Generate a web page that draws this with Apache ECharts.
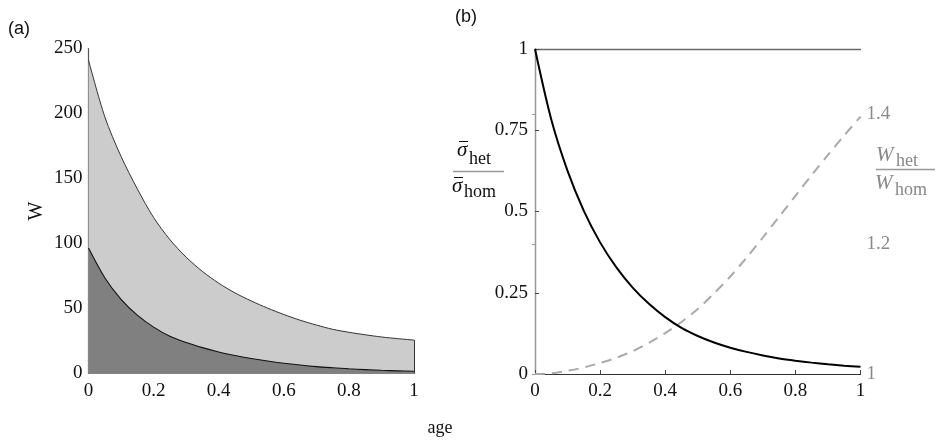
<!DOCTYPE html>
<html><head><meta charset="utf-8">
<script src="https://cdn.jsdelivr.net/npm/echarts@6/dist/echarts.min.js"></script>
<style>html,body{margin:0;padding:0;background:#fff}#c{width:941px;height:445px}</style>
</head><body><div id="c"></div>
<script>
// ---- data ----
const ages = [0,0.05,0.1,0.15,0.2,0.25,0.3,0.35,0.4,0.45,0.5,0.55,0.6,0.65,0.7,0.75,0.8,0.85,0.9,0.95,1];
const wUpper = [241,197.5,167,142,120,103,89.5,78.5,69.5,62,55.8,50.3,45.4,41,37.3,34,31.7,29.8,28.1,26.8,25.7];
const wLower = [96.5,73.7,57.1,44.9,35.7,28.7,23.8,19.9,16.6,13.9,11.6,9.6,7.9,6.5,5.3,4.4,3.6,3.0,2.45,2.05,1.7];
const sigmaRatio = [1,0.783,0.625,0.502,0.405,0.328,0.266,0.216,0.175,0.142,0.117,0.097,0.081,0.068,0.057,0.048,0.041,0.035,0.030,0.0255,0.022];
const wRatio = [1,1.001,1.005,1.01,1.017,1.025,1.035,1.048,1.063,1.08,1.1,1.124,1.15,1.179,1.21,1.242,1.274,1.306,1.337,1.367,1.396];
const xTickLabels = ['0','0.2','0.4','0.6','0.8','1'];
const aYTickLabels = ['0','50','100','150','200','250'];
const bYTickLabels = ['0','0.25','0.5','0.75','1'];
const bY2TickLabels = ['1','1.2','1.4'];

const pair = (ys) => ages.map((a, i) => [a, ys[i]]);
const SERIF = 'Liberation Serif';
const fmtFrom = (labels, min, step) => (v) => {
  const idx = Math.round((v - min) / step);
  return Math.abs(min + idx * step - v) < 1e-6 && labels[idx] !== undefined ? labels[idx] : '';
};

const chart = echarts.init(document.getElementById('c'), null, {renderer: 'canvas'});
const labelStyle = {fontFamily: SERIF, fontSize: 19, color: '#111'};

chart.setOption({
  animation: false,
  backgroundColor: '#fff',
  grid: [
    {left: 88.5, top: 48.5, width: 325.5, height: 325},
    {left: 535, top: 49, width: 325.5, height: 325}
  ],
  xAxis: [
    {gridIndex: 0, type: 'value', min: 0, max: 1, interval: 0.2,
     axisLine: {lineStyle: {color: '#444', width: 1.2}}, axisTick: {show: false}, splitLine: {show: false},
     axisLabel: Object.assign({margin: 8, formatter: fmtFrom(xTickLabels, 0, 0.2)}, labelStyle)},
    {gridIndex: 1, type: 'value', min: 0, max: 1, interval: 0.2,
     axisLine: {lineStyle: {color: '#333', width: 1.2}},
     axisTick: {show: true, inside: true, length: 4, lineStyle: {color: '#444'}}, splitLine: {show: false},
     axisLabel: Object.assign({margin: 8, formatter: fmtFrom(xTickLabels, 0, 0.2)}, labelStyle)},
    {gridIndex: 1, type: 'value', min: 0, max: 1, position: 'top',
     axisLine: {lineStyle: {color: '#6a6a6a', width: 1.3}}, axisTick: {show: false}, axisLabel: {show: false}, splitLine: {show: false}}
  ],
  yAxis: [
    {gridIndex: 0, type: 'value', min: 0, max: 250, interval: 50,
     axisLine: {show: true, lineStyle: {color: '#555', width: 1.2}}, axisTick: {show: false}, splitLine: {show: false},
     axisLabel: Object.assign({margin: 6, formatter: fmtFrom(aYTickLabels, 0, 50)}, labelStyle),
     name: 'W', nameLocation: 'middle', nameGap: 42, nameTextStyle: {fontFamily: SERIF, fontSize: 20, color: '#111'}},
    {gridIndex: 1, type: 'value', min: 0, max: 1, interval: 0.25,
     axisLine: {show: true, lineStyle: {color: '#555', width: 1.2}},
     axisTick: {show: true, inside: true, length: 4, lineStyle: {color: '#444'}}, splitLine: {show: false},
     axisLabel: Object.assign({margin: 7, formatter: fmtFrom(bYTickLabels, 0, 0.25)}, labelStyle)},
    {gridIndex: 1, type: 'value', min: 1, max: 1.5, interval: 0.2, position: 'right',
     axisLine: {show: true, lineStyle: {color: '#999', width: 1.2}},
     axisTick: {show: true, inside: true, length: 3, lineStyle: {color: '#999'}}, splitLine: {show: false},
     axisLabel: {margin: 6, fontFamily: SERIF, fontSize: 19, color: '#8a8a8a', showMaxLabel: false,
                 formatter: fmtFrom(bY2TickLabels, 1, 0.2)}}
  ],
  series: [
    {type: 'line', xAxisIndex: 0, yAxisIndex: 0, data: pair(wUpper), smooth: 0.3, showSymbol: false, z: 2,
     lineStyle: {color: '#333', width: 1}, areaStyle: {color: '#cccccc', opacity: 1},
     markLine: {silent: true, symbol: 'none', label: {show: false},
       lineStyle: {color: '#333', width: 1, type: 'solid'},
       data: [[{coord: [ages[ages.length - 1], 0]}, {coord: [ages[ages.length - 1], wUpper[wUpper.length - 1]]}]]}},
    {type: 'line', xAxisIndex: 0, yAxisIndex: 0, data: pair(wLower), smooth: 0.3, showSymbol: false, z: 3,
     lineStyle: {color: '#111', width: 1.1}, areaStyle: {color: '#808080', opacity: 1}},
    {type: 'line', xAxisIndex: 1, yAxisIndex: 1, data: pair(sigmaRatio), smooth: 0.3, showSymbol: false, z: 4,
     lineStyle: {color: '#000', width: 2}},
    {type: 'line', xAxisIndex: 1, yAxisIndex: 2, data: pair(wRatio), smooth: 0.3, showSymbol: false, z: 3,
     lineStyle: {color: '#aaa', width: 2, type: [10, 7]}}
  ],
  graphic: [
    {type: 'text', left: 8, top: 20, style: {text: '(a)', font: '18px "Liberation Sans"', fill: '#111'}},
    {type: 'text', left: 455, top: 8, style: {text: '(b)', font: '18px "Liberation Sans"', fill: '#111'}},
    {type: 'text', x: 440, y: 428, style: {text: 'age', font: '18px "Liberation Serif"', fill: '#111', align: 'center', verticalAlign: 'middle'}},
    // sigma_het / sigma_hom
    {type: 'text', x: 457, y: 150, style: {text: 'σ', font: 'italic 21px "Liberation Serif"', fill: '#111', verticalAlign: 'middle'}},
    {type: 'line', shape: {x1: 459, y1: 141.5, x2: 468, y2: 141.5}, style: {stroke: '#111', lineWidth: 1}},
    {type: 'text', x: 469, y: 159, style: {text: 'het', font: '18px "Liberation Serif"', fill: '#111', verticalAlign: 'middle'}},
    {type: 'line', shape: {x1: 453, y1: 171.5, x2: 504, y2: 171.5}, style: {stroke: '#999', lineWidth: 1.5}},
    {type: 'text', x: 452, y: 186, style: {text: 'σ', font: 'italic 21px "Liberation Serif"', fill: '#111', verticalAlign: 'middle'}},
    {type: 'line', shape: {x1: 454, y1: 177.5, x2: 463, y2: 177.5}, style: {stroke: '#111', lineWidth: 1}},
    {type: 'text', x: 464, y: 192, style: {text: 'hom', font: '18px "Liberation Serif"', fill: '#111', verticalAlign: 'middle'}},
    // W_het / W_hom
    {type: 'text', x: 876, y: 155, style: {text: 'W', font: 'italic 21px "Liberation Serif"', fill: '#888', verticalAlign: 'middle'}},
    {type: 'text', x: 896, y: 161, style: {text: 'het', font: '18px "Liberation Serif"', fill: '#888', verticalAlign: 'middle'}},
    {type: 'line', shape: {x1: 876, y1: 169.5, x2: 935, y2: 169.5}, style: {stroke: '#999', lineWidth: 1.5}},
    {type: 'text', x: 875, y: 183, style: {text: 'W', font: 'italic 21px "Liberation Serif"', fill: '#888', verticalAlign: 'middle'}},
    {type: 'text', x: 895, y: 190, style: {text: 'hom', font: '18px "Liberation Serif"', fill: '#888', verticalAlign: 'middle'}}
  ]
});
</script>
</body></html>
